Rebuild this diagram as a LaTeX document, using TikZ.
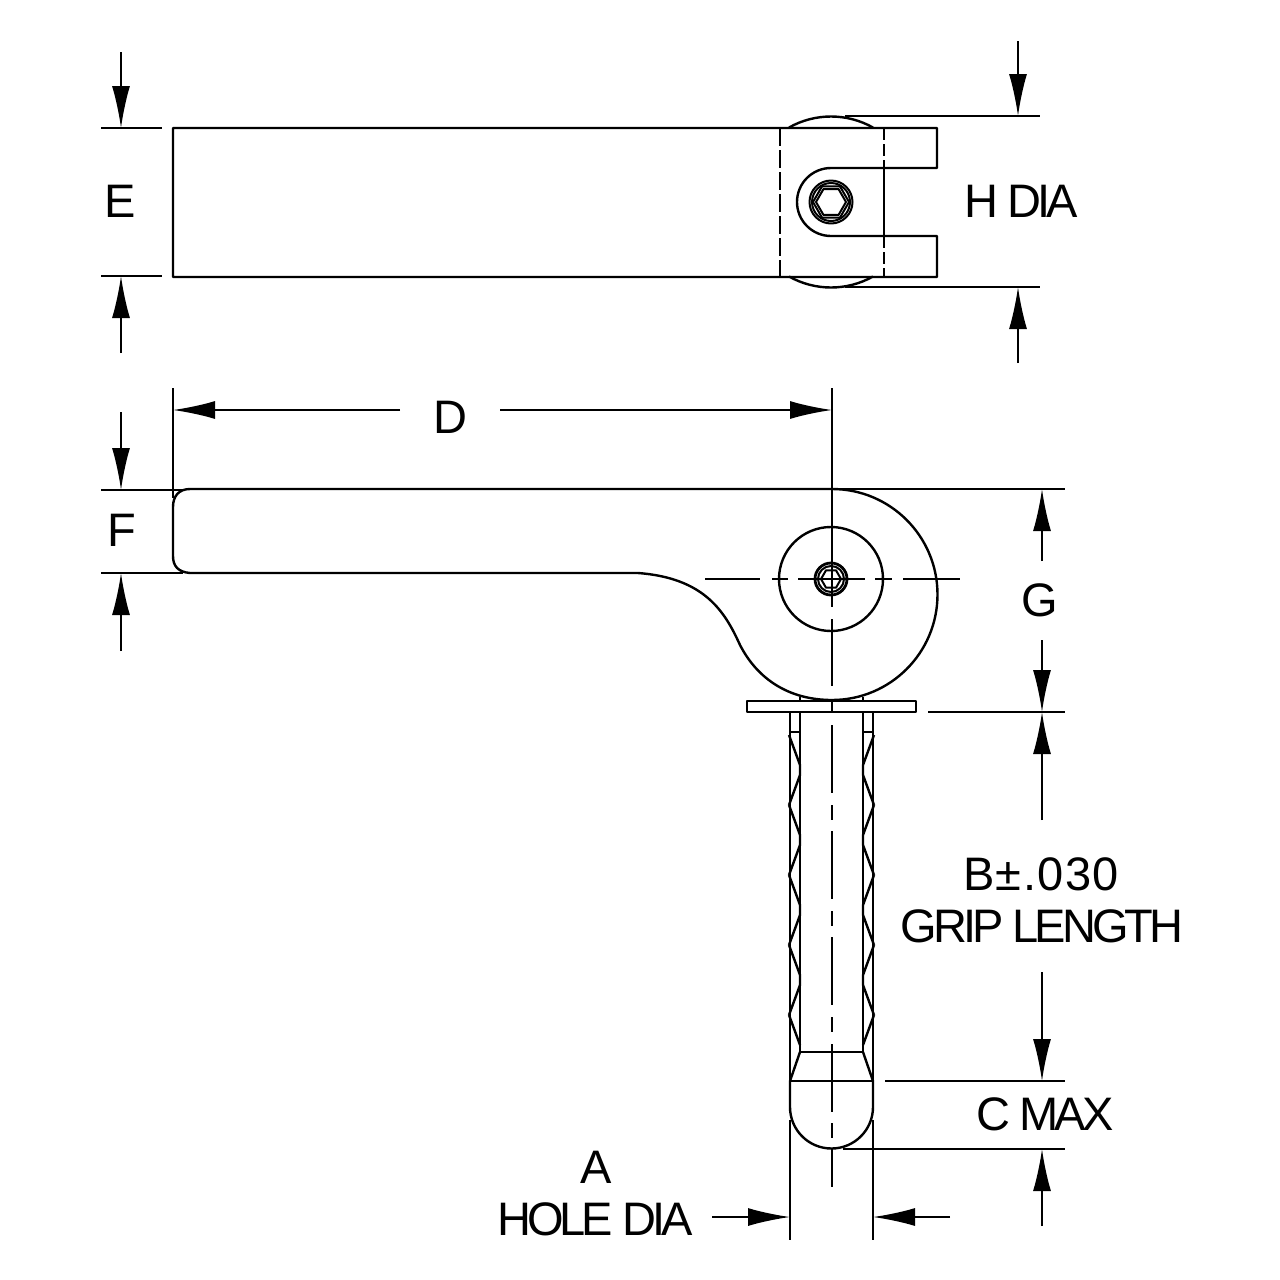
\documentclass[tikz,border=0pt]{standalone}
\usepackage{fontspec}
\setmainfont[LetterSpace=-8.5]{Liberation Sans}
\usetikzlibrary{arrows.meta,shapes.geometric}

\begin{document}
\begin{tikzpicture}[x=0.5pt,y=-0.5pt]
\tikzset{part/.style={line width=1.2pt,line join=round},
thinpart/.style={line width=1pt,line join=round},
dimline/.style={line width=0.9pt},
centerline/.style={line width=1.1pt},
dimarrow/.style={line width=0.9pt,-{Latex[length=21pt,width=9pt]}},
dimlabel/.style={font=\fontsize{23.5}{26}\selectfont,inner sep=0,align=center},
ring/.style={draw,circle,inner sep=0,thinpart},
hexhead/.style={draw,regular polygon,regular polygon sides=6,inner sep=0,thinpart}}

\useasboundingbox (0,0) rectangle (1280,1280);

%% Top view
\draw[part] (173,128) -- (937,128) -- (937,168) -- (831,168)
  arc[start angle=270,end angle=90,radius=34] -- (937,236) -- (937,277) -- (173,277) -- cycle;
\draw[part] (831,202) ++(240.6:85.5) arc[start angle=240.6,end angle=299.4,radius=85.5];
\draw[part] (831,202) ++(60.6:85.5) arc[start angle=60.6,end angle=119.4,radius=85.5];
\draw[part,dash pattern=on 9pt off 2pt] (780,128) -- (780,277);
\draw[part,dash pattern=on 6pt off 2pt] (884,128) -- (884,168);
\draw[part] (884,168) -- (884,236);
\draw[part,dash pattern=on 6pt off 2pt] (884,236) -- (884,277);

\node (topring) [ring,minimum size=21.5pt] at (831,202) {};
\node (topcap) [ring,minimum size=19pt] at (831,202) {};
\node (tophexa) [hexhead,minimum size=18pt] at (831,202) {};
\node (tophexb) [hexhead,minimum size=15pt] at (831,202) {};

%% Side view
\draw[part] (190,489) -- (832,489) arc[start angle=270,end angle=450,radius=105.5]
  .. controls (790,700) and (758,680) .. (740,645)
  .. controls (725,612) and (705,578) .. (638,573)
  -- (190,573) .. controls (178,572) and (173,566) .. (173,556)
  -- (173,507) .. controls (173,496) and (179,489) .. (190,489);
\node (boss) [draw,circle,inner sep=0,part,minimum size=52pt] at (831,579) {};
\node (screwa) [draw,circle,inner sep=0,line width=1.4pt,minimum size=16pt] at (831,579) {};
\node (screwb) [ring,minimum size=13pt] at (831,579) {};
\node (screwhex) [hexhead,minimum size=10pt] at (831,579) {};

\draw[part] (747,701) rectangle (916,712);
\draw[thinpart] (800,697) -- (800,701) (863,697) -- (863,701);

%% Shank
\draw[part] (800,712) -- (800,1052) -- (863,1052) -- (863,712);
\draw[thinpart] (790,712) -- (790,1081) (873,712) -- (873,1081);
\draw[thinpart] (790,732) -- (800,732) (863,732) -- (873,732);
\foreach \k in {735,805,875,945} {
  \draw[part] (789,\k) -- (800,\k+30) -- (800,\k+40) -- (789,\k+70);
  \draw[part] (874,\k) -- (863,\k+30) -- (863,\k+40) -- (874,\k+70);
}
\draw[part] (789,1015) -- (800,1045) (874,1015) -- (863,1045);

%% Nose
\draw[part] (800,1052) -- (790,1081) -- (790,1107)
  arc[start angle=180,end angle=0,radius=41.5] -- (873,1081) -- (863,1052);
\draw[part] (790,1081) -- (873,1081);
\draw[dimline] (790,1120) -- (790,1240) (873,1120) -- (873,1240);

%% Centre lines
\foreach \a/\b in {388/607, 619/686, 699/713, 725/793, 805/820, 831/899, 911/926,
  937/1005, 1017/1032, 1044/1112, 1123/1138, 1148/1187}
  \draw[centerline] (832,\a) -- (832,\b);
\foreach \a/\b in {705/760, 772/788, 798/865, 875/892, 903/960}
  \draw[centerline] (\a,579) -- (\b,579);

%% Extension lines
\draw[dimline] (101,128) -- (162,128) (101,276) -- (162,276);
\draw[dimline] (845,116) -- (1040,116) (845,287) -- (1040,287);
\draw[dimline] (173,388) -- (173,498);
\draw[dimline] (101,490) -- (183,490) (101,573) -- (183,573);
\draw[dimline] (832,489) -- (1065,489) (928,712) -- (1065,712);
\draw[dimline] (885,1081) -- (1065,1081) (843,1149) -- (1065,1149);

%% Dimension arrows
\foreach \u/\px/\py/\qx/\qy in {ea/121/52/121/128, eb/121/353/121/276,
  ha/1018/41/1018/116, hb/1018/363/1018/287,
  da/400/410/173/410, db/500/410/832/410,
  fa/121/412/121/490, fb/121/651/121/573,
  ga/1042/561/1042/489, gb/1042/640/1042/712,
  ba/1042/820/1042/712, bb/1042/972/1042/1081,
  ca/1042/1226/1042/1149,
  aa/712/1217/790/1217, ab/950/1217/873/1217} {
  \coordinate (\u0) at (\px,\py);
  \coordinate (\u1) at (\qx,\qy);
  \draw[dimarrow] (\u0) -- (\u1);
}

%% Labels
\node (labe) [dimlabel] at (120,201) {E};
\node (labh) [dimlabel] at (1021,201) {H DIA};
\node (labd) [dimlabel] at (450,417) {D};
\node (labf) [dimlabel] at (122,530) {F};
\node (labg) [dimlabel] at (1040,600) {G};
\node (labb) [dimlabel] at (1041,874) {\addfontfeature{LetterSpace=3}B±.030};
\node (labgrip) [dimlabel] at (1042,926) {GRIP LENGTH};
\node (labc) [dimlabel] at (1045,1114) {C MAX};
\node (laba) [dimlabel] at (596,1167) {A};
\node (labhole) [dimlabel] at (595,1219) {HOLE DIA};

\end{tikzpicture}
\end{document}
